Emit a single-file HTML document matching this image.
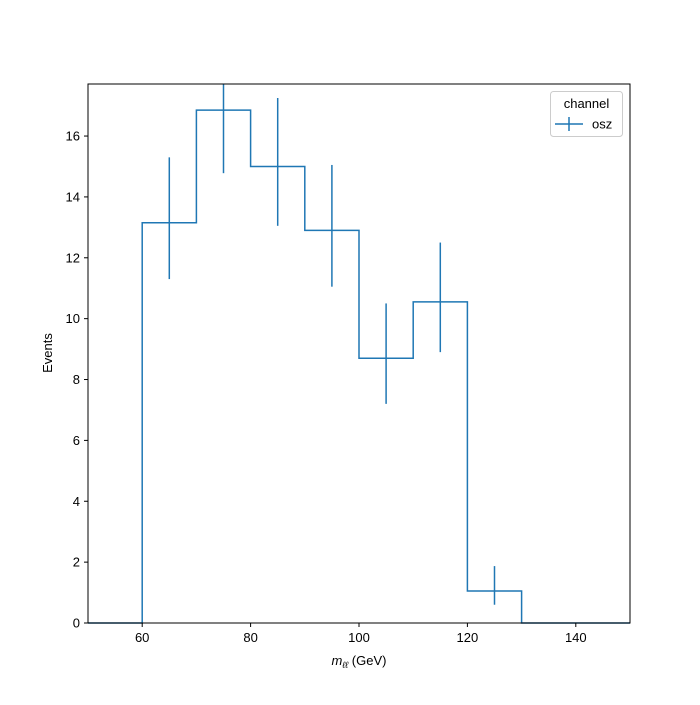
<!DOCTYPE html>
<html><head><meta charset="utf-8"><style>
body{margin:0;background:#fff}
svg{font-family:"Liberation Sans","DejaVu Sans",sans-serif}
</style></head><body>
<svg id="chart" width="700" height="700" viewBox="0 0 700 700">
<rect x="0" y="0" width="700" height="700" fill="#fff"/>
<g id="marks"></g>
<g id="axes"></g>
<rect x="88" y="84" width="542" height="539" fill="none" stroke="#000" stroke-width="1"/>
<g>
<rect x="550.5" y="91.5" width="72" height="45" rx="3" fill="#fff" stroke="#ccc"/>
<text x="586.5" y="108" font-size="13" text-anchor="middle">channel</text>
<line x1="555" y1="124" x2="583" y2="124" stroke="#1f77b4" stroke-width="1.5"/>
<line x1="569" y1="117" x2="569" y2="131" stroke="#1f77b4" stroke-width="1.5"/>
<text x="592" y="128.5" font-size="13">osz</text>
</g>
<text x="359" y="665" font-size="13" text-anchor="middle"><tspan font-style="italic">m</tspan><tspan font-style="italic" font-size="9" dy="3">ℓℓ</tspan><tspan dy="-3"> (GeV)</tspan></text>
<text x="52" y="353" font-size="13" text-anchor="middle" transform="rotate(-90 52 353)">Events</text>
</svg>
<script>
const edges=[50,60,70,80,90,100,110,120,130,140,150];
const counts=[0,13.15,16.85,15.0,12.9,8.7,10.55,1.05,0,0];
const errUp=[0,2.15,2.1,2.25,2.15,1.8,1.95,0.82,0,0];
const errDown=[0,1.85,2.07,1.95,1.85,1.5,1.65,0.45,0,0];
const xTicks=[60,80,100,120,140];
const yTicks=[0,2,4,6,8,10,12,14,16];
const X0=88,X1=630,Y0=623,Y1=84,xmin=50,xmax=150,ymin=0,ymax=17.71;
const sx=v=>X0+(v-xmin)/(xmax-xmin)*(X1-X0);
const sy=v=>Y0-(v-ymin)/(ymax-ymin)*(Y0-Y1);
const NS="http://www.w3.org/2000/svg";
const marks=document.getElementById('marks'),axes=document.getElementById('axes');
let d="M"+sx(edges[0])+","+sy(counts[0]);
for(let i=0;i<counts.length;i++){
  d+=" L"+sx(edges[i])+","+sy(counts[i])+" L"+sx(edges[i+1])+","+sy(counts[i]);
}
const p=document.createElementNS(NS,'path');
p.setAttribute('d',d);p.setAttribute('fill','none');p.setAttribute('stroke','#1f77b4');p.setAttribute('stroke-width','1.5');


marks.appendChild(p);
const cp=document.createElementNS(NS,'clipPath');cp.id='clip';
const cr=document.createElementNS(NS,'rect');cr.setAttribute('x',X0);cr.setAttribute('y',Y1);cr.setAttribute('width',X1-X0);cr.setAttribute('height',Y0-Y1);
cp.appendChild(cr);marks.appendChild(cp);
for(let i=0;i<counts.length;i++){
  if(counts[i]<=0)continue;
  const c=(edges[i]+edges[i+1])/2;
  const l=document.createElementNS(NS,'line');
  l.setAttribute('x1',sx(c));l.setAttribute('x2',sx(c));
  l.setAttribute('y1',sy(counts[i]+errUp[i]));l.setAttribute('y2',sy(counts[i]-errDown[i]));
  l.setAttribute('stroke','#1f77b4');l.setAttribute('stroke-width','1.5');l.setAttribute('clip-path','url(#clip)');
  
  
  marks.appendChild(l);
}
xTicks.forEach(t=>{
  const l=document.createElementNS(NS,'line');
  l.setAttribute('x1',sx(t));l.setAttribute('x2',sx(t));l.setAttribute('y1',Y0);l.setAttribute('y2',Y0+4);l.setAttribute('stroke','#000');
  
  
  axes.appendChild(l);
  const tx=document.createElementNS(NS,'text');
  tx.setAttribute('x',sx(t));tx.setAttribute('y',Y0+19);tx.setAttribute('font-size','13');tx.setAttribute('text-anchor','middle');
  tx.textContent=t;
  
  
  axes.appendChild(tx);
});
yTicks.forEach(t=>{
  const l=document.createElementNS(NS,'line');
  l.setAttribute('x1',X0-4);l.setAttribute('x2',X0);l.setAttribute('y1',sy(t));l.setAttribute('y2',sy(t));l.setAttribute('stroke','#000');
  
  
  axes.appendChild(l);
  const tx=document.createElementNS(NS,'text');
  tx.setAttribute('x',X0-8);tx.setAttribute('y',sy(t)+4.5);tx.setAttribute('font-size','13');tx.setAttribute('text-anchor','end');
  tx.textContent=t;
  
  
  axes.appendChild(tx);
});
</script>
</body></html>
